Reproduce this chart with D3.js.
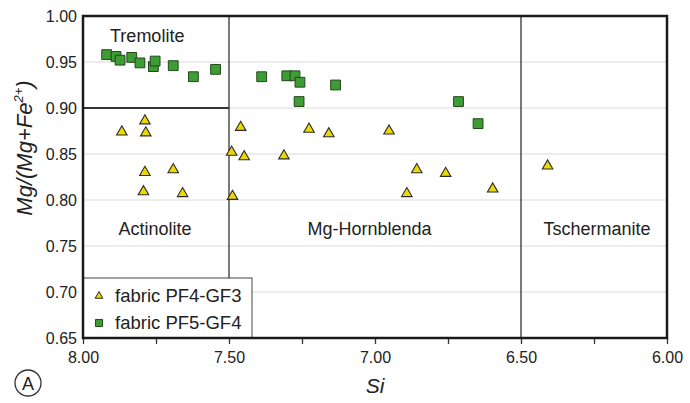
<!DOCTYPE html>
<html>
<head>
<meta charset="utf-8">
<script src="https://cdn.jsdelivr.net/npm/d3@7"></script>
<style>
  body { margin: 0; background: #fff; }
  text { font-family: "Liberation Sans", Arial, sans-serif; fill: #222; }
</style>
</head>
<body>
<div id="chart"></div>
<script>
// fabric PF4-GF3 (triangles)
var siPF4 = [7.867, 7.788, 7.785, 7.788, 7.691, 7.793, 7.659, 7.491, 7.488, 7.460,
             7.448, 7.312, 7.226, 7.158, 6.952, 6.857, 6.891, 6.758, 6.597, 6.409];
var mgPF4 = [0.874, 0.886, 0.873, 0.830, 0.833, 0.809, 0.807, 0.852, 0.804, 0.879,
             0.847, 0.848, 0.877, 0.872, 0.875, 0.833, 0.807, 0.829, 0.812, 0.837];

// fabric PF5-GF4 (squares)
var siPF5 = [7.919, 7.887, 7.873, 7.833, 7.805, 7.759, 7.753, 7.691, 7.622, 7.546,
             7.388, 7.302, 7.274, 7.257, 7.135, 7.260, 6.714, 6.647];
var mgPF5 = [0.958, 0.956, 0.952, 0.955, 0.949, 0.945, 0.951, 0.946, 0.934, 0.942,
             0.934, 0.935, 0.935, 0.928, 0.925, 0.907, 0.907, 0.883];

var xMajorTicks = [8.00, 7.50, 7.00, 6.50, 6.00];
var xMinorTicks = [7.75, 7.25, 6.75, 6.25];
var yTicks = [0.65, 0.70, 0.75, 0.80, 0.85, 0.90, 0.95, 1.00];

var seriesNames = ["fabric PF4-GF3", "fabric PF5-GF4"];
var regionNames = ["Tremolite", "Actinolite", "Mg-Hornblenda", "Tschermanite"];

var svgWidth = 690;
var svgHeight = 403;

var margin = { top: 16, right: 23, bottom: 65, left: 83 };
var width = svgWidth - margin.left - margin.right;
var height = svgHeight - margin.top - margin.bottom;

var svg = d3.select("#chart")
  .append("svg")
  .attr("width", svgWidth)
  .attr("height", svgHeight);

var chartGroup = svg.append("g")
  .attr("transform", `translate(${margin.left}, ${margin.top})`);

var x = d3.scaleLinear().domain([8, 6]).range([0, width]);
var y = d3.scaleLinear().domain([0.65, 1.0]).range([height, 0]);

// horizontal grid
chartGroup.append("g")
  .selectAll("line")
  .data(yTicks.slice(1, -1))
  .enter()
  .append("line")
  .attr("x1", 0).attr("x2", width)
  .attr("y1", d => y(d)).attr("y2", d => y(d))
  .attr("stroke", "#d9d9d9")
  .attr("stroke-width", 1);

// field boundaries
var bounds = chartGroup.append("g").attr("stroke", "#333").attr("stroke-width", 1.3);
bounds.append("line")
  .attr("x1", x(7.5)).attr("x2", x(7.5)).attr("y1", 0).attr("y2", height);
bounds.append("line")
  .attr("x1", x(6.5)).attr("x2", x(6.5)).attr("y1", 0).attr("y2", height);
bounds.append("line")
  .attr("x1", x(8)).attr("x2", x(7.5)).attr("y1", y(0.9)).attr("y2", y(0.9))
  .attr("stroke-width", 1.8);

// field names
var regionPos = [[7.78, 0.972], [7.753, 0.762], [7.019, 0.762], [6.24, 0.762]];
chartGroup.selectAll(".region")
  .data(regionNames)
  .enter()
  .append("text")
  .attr("class", "region")
  .attr("x", (d, i) => x(regionPos[i][0]))
  .attr("y", (d, i) => y(regionPos[i][1]))
  .attr("text-anchor", "middle")
  .style("font-size", "18px")
  .text(d => d);

// x axis ticks
var bottomAxis = d3.axisBottom(x)
  .tickValues(xMajorTicks.concat(xMinorTicks))
  .tickSize(6)
  .tickFormat(d => xMajorTicks.indexOf(d) >= 0 ? d3.format(".2f")(d) : "");

var xAxis = chartGroup.append("g")
  .attr("transform", `translate(0, ${height})`)
  .call(bottomAxis);
xAxis.select(".domain").remove();
xAxis.selectAll(".tick line").attr("stroke", "#333").attr("stroke-width", 1.3);
xAxis.selectAll(".tick text")
  .attr("y", 14)
  .style("font-size", "16px")
  .style("font-family", "Liberation Sans, Arial, sans-serif")
  .attr("fill", "#222");

// y axis labels
var leftAxis = d3.axisLeft(y)
  .tickValues(yTicks)
  .tickSize(0)
  .tickPadding(6)
  .tickFormat(d3.format(".2f"));

var yAxis = chartGroup.append("g").call(leftAxis);
yAxis.select(".domain").remove();
yAxis.selectAll(".tick text")
  .style("font-size", "16px")
  .style("font-family", "Liberation Sans, Arial, sans-serif")
  .attr("fill", "#222");

// points
var pf4 = siPF4.map((s, i) => ({ si: s, mg: mgPF4[i] }));
var pf5 = siPF5.map((s, i) => ({ si: s, mg: mgPF5[i] }));

chartGroup.append("g")
  .selectAll("path")
  .data(pf5)
  .enter()
  .append("path")
  .attr("d", d3.symbol().type(d3.symbolSquare).size(96))
  .attr("transform", d => `translate(${x(d.si)}, ${y(d.mg)})`)
  .attr("fill", "#3e9c34")
  .attr("stroke", "#23461d")
  .attr("stroke-width", 1);

chartGroup.append("g")
  .selectAll("path")
  .data(pf4)
  .enter()
  .append("path")
  .attr("d", d3.symbol().type(d3.symbolTriangle).size(48))
  .attr("transform", d => `translate(${x(d.si)}, ${y(d.mg)})`)
  .attr("fill", "#ecd900")
  .attr("stroke", "#2b2b2b")
  .attr("stroke-width", 1.1);

// legend
var legend = chartGroup.append("g");
legend.append("rect")
  .attr("x", 0).attr("y", height - 60)
  .attr("width", 169).attr("height", 60)
  .attr("fill", "#fff")
  .attr("stroke", "#444")
  .attr("stroke-width", 1);

var legendSymbols = [
  { type: d3.symbolTriangle, size: 26, fill: "#ecd900", stroke: "#2b2b2b" },
  { type: d3.symbolSquare, size: 50, fill: "#3e9c34", stroke: "#23461d" }
];

var legendItems = legend.selectAll(".legItem")
  .data(seriesNames)
  .enter()
  .append("g")
  .attr("class", "legItem")
  .attr("transform", (d, i) => `translate(0, ${height - 42 + i * 27})`);

legendItems.append("path")
  .attr("d", (d, i) => d3.symbol().type(legendSymbols[i].type).size(legendSymbols[i].size)())
  .attr("transform", "translate(16, 0)")
  .attr("fill", (d, i) => legendSymbols[i].fill)
  .attr("stroke", (d, i) => legendSymbols[i].stroke)
  .attr("stroke-width", 1);

legendItems.append("text")
  .attr("x", 32)
  .attr("y", 6)
  .style("font-size", "18.5px")
  .text(d => d);

// frame
chartGroup.append("rect")
  .attr("x", 0).attr("y", 0)
  .attr("width", width).attr("height", height)
  .attr("fill", "none")
  .attr("stroke", "#1a1a1a")
  .attr("stroke-width", 2.5);

// axis titles
svg.append("text")
  .attr("x", margin.left + width / 2)
  .attr("y", 393)
  .attr("text-anchor", "middle")
  .style("font-size", "21px")
  .style("font-style", "italic")
  .text("Si");

var yTitle = svg.append("text")
  .attr("transform", "translate(32, 148) rotate(-90)")
  .attr("text-anchor", "middle")
  .style("font-size", "22px")
  .style("font-style", "italic");
yTitle.append("tspan").text("Mg/(Mg+Fe");
yTitle.append("tspan").attr("dy", -9).style("font-size", "13px").text("2+");
yTitle.append("tspan").attr("dy", 9).text(")");

// panel letter
svg.append("circle")
  .attr("cx", 28).attr("cy", 383).attr("r", 13)
  .attr("fill", "none")
  .attr("stroke", "#333")
  .attr("stroke-width", 1.3);
svg.append("text")
  .attr("x", 28).attr("y", 389.5)
  .attr("text-anchor", "middle")
  .style("font-size", "18px")
  .text("A");
</script>
</body>
</html>
